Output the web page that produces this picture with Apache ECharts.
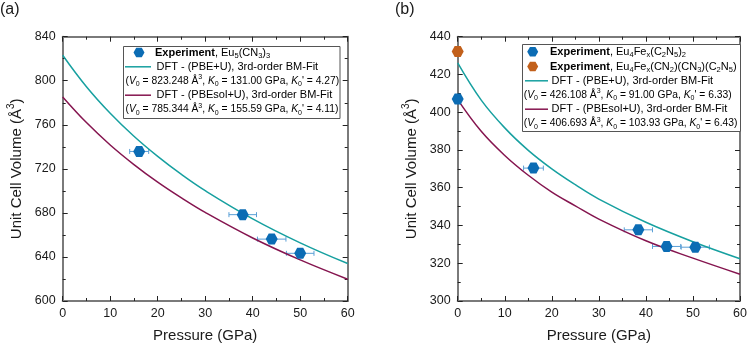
<!DOCTYPE html>
<html>
<head>
<meta charset="utf-8">
<script src="https://cdn.jsdelivr.net/npm/echarts@6/dist/echarts.min.js"></script>
<style>
  html, body { margin: 0; padding: 0; background: #fff; }
  #chart { width: 750px; height: 348px; }
</style>
</head>
<body>
<div id="chart"></div>
<script>
// 数据
var fitPressure = [0, 5, 10, 15, 20, 25, 30, 40, 50, 60];
var fitA_PBE    = [823.2, 794.6, 770.5, 749.6, 731.3, 714.9, 700.2, 674.6, 652.8, 634.0];
var fitA_PBEsol = [785.3, 762.0, 741.7, 723.9, 707.9, 693.6, 680.4, 657.2, 637.3, 619.8];
var fitB_PBE    = [426.1, 406.4, 391.7, 379.8, 370.0, 361.6, 354.0, 341.7, 331.4, 322.4];
var fitB_PBEsol = [406.7, 389.9, 377.1, 366.6, 357.7, 350.4, 343.4, 331.9, 322.7, 314.2];

var expA_P   = [16.1, 37.9, 44.0, 50.0];
var expA_V   = [735.8, 678.4, 656.2, 643.3];
var expA_err = [2.0, 2.9, 3.0, 2.9];

var expB_P   = [0, 16.1, 38.4, 44.4, 50.5];
var expB_V   = [407.0, 370.4, 337.7, 328.9, 328.5];
var expB_err = [0, 2.1, 3.0, 3.0, 3.0];

var expB2_P = [0];
var expB2_V = [432.1];

var xTicks = { min: 0, max: 60, interval: 10 };
var yTicksA = { min: 600, max: 840, interval: 40 };
var yTicksB = { min: 300, max: 440, interval: 20 };

var TEAL = '#17a0a0';
var PURPLE = '#85154f';
var BLUE = '#0b6cb4';
var ERR = '#5a9fd6';
var ORANGE = '#c2601b';
var FONT = 'Liberation Sans, Arial, sans-serif';

function pairs(xs, ys) {
    return xs.map(function (x, i) { return [x, ys[i]]; });
}
function errData(xs, ys, es) {
    return xs.map(function (x, i) { return [x, ys[i], es[i]]; });
}

var hexPath = 'path://M-1,0 L-0.5,-0.866 L0.5,-0.866 L1,0 L0.5,0.866 L-0.5,0.866 Z';

function errorBars(params, api) {
    var x = api.value(0), y = api.value(1), e = api.value(2);
    if (!e) return;
    var l = api.coord([x - e, y]);
    var r = api.coord([x + e, y]);
    var cap = 2.5;
    return {
        type: 'group',
        children: [
            { type: 'line', shape: { x1: l[0], y1: l[1], x2: r[0], y2: r[1] }, style: { stroke: ERR, lineWidth: 1 } },
            { type: 'line', shape: { x1: l[0], y1: l[1] - cap, x2: l[0], y2: l[1] + cap }, style: { stroke: ERR, lineWidth: 1 } },
            { type: 'line', shape: { x1: r[0], y1: r[1] - cap, x2: r[0], y2: r[1] + cap }, style: { stroke: ERR, lineWidth: 1 } }
        ]
    };
}

function xAxisCfg(grid, top) {
    return {
        gridIndex: grid, type: 'value', position: top ? 'top' : 'bottom',
        min: xTicks.min, max: xTicks.max, interval: xTicks.interval,
        name: top ? '' : 'Pressure (GPa)', nameLocation: 'middle', nameGap: 27,
        nameTextStyle: { fontSize: 15, color: '#1a1a1a', fontFamily: FONT },
        axisLine: { onZero: false, lineStyle: { color: '#7a7a7a', width: 2 } },
        axisTick: { inside: true, length: 5, lineStyle: { color: '#222' } },
        minorTick: { show: true, splitNumber: 2, length: 3, lineStyle: { color: '#222' } },
        axisLabel: { show: !top, fontSize: 12.5, color: '#1a1a1a', fontFamily: FONT, margin: 6 },
        splitLine: { show: false }
    };
}
function yAxisCfg(grid, right, t) {
    return {
        gridIndex: grid, type: 'value', position: right ? 'right' : 'left',
        min: t.min, max: t.max, interval: t.interval,
        name: right ? '' : '{n|Unit Cell Volume (Å}{s|3}{n|)}', nameLocation: 'middle', nameGap: 36,
        nameTextStyle: {
            rich: {
                n: { fontSize: 15, color: '#1a1a1a', fontFamily: FONT, lineHeight: 20 },
                s: { fontSize: 10, color: '#1a1a1a', fontFamily: FONT, lineHeight: 12, verticalAlign: 'top' }
            }
        },
        axisLine: { onZero: false, lineStyle: { color: '#7a7a7a', width: 2 } },
        axisTick: { inside: true, length: 5, lineStyle: { color: '#222' } },
        minorTick: { show: true, splitNumber: 2, length: 3, lineStyle: { color: '#222' } },
        axisLabel: { show: !right, fontSize: 12.5, color: '#1a1a1a', fontFamily: FONT, margin: 7 },
        splitLine: { show: false }
    };
}

// 图例 (graphic)
var legRich = {
    n: { fontSize: 11, lineHeight: 14, color: '#1a1a1a', fontFamily: FONT },
    b: { fontSize: 11, lineHeight: 14, color: '#1a1a1a', fontFamily: FONT, fontWeight: 'bold' },
    i: { fontSize: 11, lineHeight: 14, color: '#1a1a1a', fontFamily: FONT, fontStyle: 'italic' },
    sub: { fontSize: 7.5, lineHeight: 9, color: '#1a1a1a', fontFamily: FONT, verticalAlign: 'bottom' },
    sup: { fontSize: 7.5, lineHeight: 9, color: '#1a1a1a', fontFamily: FONT, verticalAlign: 'top' }
};
var legRichP = {
    n: { fontSize: 10.3, lineHeight: 14, color: '#1a1a1a', fontFamily: FONT },
    i: { fontSize: 10.3, lineHeight: 14, color: '#1a1a1a', fontFamily: FONT, fontStyle: 'italic' },
    sub: { fontSize: 7, lineHeight: 9, color: '#1a1a1a', fontFamily: FONT, verticalAlign: 'bottom' },
    sup: { fontSize: 7, lineHeight: 9, color: '#1a1a1a', fontFamily: FONT, verticalAlign: 'top' }
};
function legText(x, y, t, rich) {
    return { type: 'text', x: x, y: y, style: { text: t, rich: rich || legRich, verticalAlign: 'middle', align: 'left' }, z: 10 };
}
function legLine(x1, x2, y, c) {
    return { type: 'line', shape: { x1: x1, y1: y, x2: x2, y2: y }, style: { stroke: c, lineWidth: 1.5 }, z: 10 };
}
function legHex(cx, cy, c) {
    var r = 5.5, pts = [];
    for (var k = 0; k < 6; k++) {
        var a = Math.PI / 3 * k;
        pts.push([cx + r * Math.cos(a), cy + r * Math.sin(a)]);
    }
    return { type: 'polygon', shape: { points: pts }, style: { fill: c }, z: 10 };
}
function legBox(x, y, w, h) {
    return { type: 'rect', shape: { x: x, y: y, width: w, height: h }, style: { fill: '#fff', stroke: '#555', lineWidth: 1 }, z: 9 };
}

var graphics = [
    { type: 'text', x: 0, y: 2, style: { text: '(a)', fontSize: 16, fill: '#1a1a1a', fontFamily: FONT } },
    { type: 'text', x: 395, y: 2, style: { text: '(b)', fontSize: 16, fill: '#1a1a1a', fontFamily: FONT } },

    legBox(123.5, 46.5, 216.5, 72),
    legHex(139, 52.5, BLUE),
    legText(155, 52.5, '{b|Experiment}{n|, Eu}{sub|5}{n|(CN}{sub|3}{n|)}{sub|3}'),
    legLine(125, 151, 66.8, TEAL),
    legText(156.5, 66.8, '{n|DFT - (PBE+U), 3rd-order BM-Fit}'),
    legText(125.5, 81, '{n|(}{i|V}{sub|0}{n| = 823.248 Å}{sup|3}{n|, }{i|K}{sub|0}{n| = 131.00 GPa, }{i|K}{sub|0}{n|\' = 4.27)}', legRichP),
    legLine(125, 151, 95.2, PURPLE),
    legText(156.5, 95.2, '{n|DFT - (PBEsol+U), 3rd-order BM-Fit}'),
    legText(125.5, 109.4, '{n|(}{i|V}{sub|0}{n| = 785.344 Å}{sup|3}{n|, }{i|K}{sub|0}{n| = 155.59 GPa, }{i|K}{sub|0}{n|\' = 4.11)}', legRichP),

    legBox(522.5, 44.5, 218, 87),
    legHex(532.7, 51.7, BLUE),
    legText(550, 51.7, '{b|Experiment}{n|, Eu}{sub|4}{n|Fe}{sub|x}{n|(C}{sub|2}{n|N}{sub|5}{n|)}{sub|2}'),
    legHex(532.7, 66.5, ORANGE),
    legText(550, 66.5, '{b|Experiment}{n|, Eu}{sub|4}{n|Fe}{sub|x}{n|(CN}{sub|2}{n|)(CN}{sub|3}{n|)(C}{sub|2}{n|N}{sub|5}{n|)}'),
    legLine(525, 548, 80.8, TEAL),
    legText(551.5, 80.8, '{n|DFT - (PBE+U), 3rd-order BM-Fit}'),
    legText(523.8, 95, '{n|(}{i|V}{sub|0}{n| = 426.108 Å}{sup|3}{n|, }{i|K}{sub|0}{n| = 91.00 GPa, }{i|K}{sub|0}{n|\' = 6.33)}', legRichP),
    legLine(525, 548, 109.2, PURPLE),
    legText(551.5, 109.2, '{n|DFT - (PBEsol+U), 3rd-order BM-Fit}'),
    legText(523.8, 123.4, '{n|(}{i|V}{sub|0}{n| = 406.693 Å}{sup|3}{n|, }{i|K}{sub|0}{n| = 103.93 GPa, }{i|K}{sub|0}{n|\' = 6.43)}', legRichP)
];

var chart = echarts.init(document.getElementById('chart'));

var option = {
    animation: false,
    backgroundColor: '#fff',
    grid: [
        { left: 62.7, right: 402.3, top: 36.7, bottom: 45 },
        { left: 457.7, right: 10, top: 36.7, bottom: 45 }
    ],
    xAxis: [xAxisCfg(0, false), xAxisCfg(0, true), xAxisCfg(1, false), xAxisCfg(1, true)],
    yAxis: [yAxisCfg(0, false, yTicksA), yAxisCfg(0, true, yTicksA), yAxisCfg(1, false, yTicksB), yAxisCfg(1, true, yTicksB)],
    graphic: graphics,
    series: [
        { type: 'line', xAxisIndex: 0, yAxisIndex: 0, data: pairs(fitPressure, fitA_PBE), smooth: 0.4, showSymbol: false, lineStyle: { color: TEAL, width: 1.5 } },
        { type: 'line', xAxisIndex: 0, yAxisIndex: 0, data: pairs(fitPressure, fitA_PBEsol), smooth: 0.4, showSymbol: false, lineStyle: { color: PURPLE, width: 1.5 } },
        { type: 'custom', xAxisIndex: 0, yAxisIndex: 0, data: errData(expA_P, expA_V, expA_err), renderItem: errorBars, z: 3 },
        { type: 'scatter', xAxisIndex: 0, yAxisIndex: 0, data: pairs(expA_P, expA_V), symbol: hexPath, symbolSize: [12, 11], itemStyle: { color: BLUE, opacity: 1 }, z: 4 },

        { type: 'line', xAxisIndex: 2, yAxisIndex: 2, data: pairs(fitPressure, fitB_PBE), smooth: 0.4, showSymbol: false, lineStyle: { color: TEAL, width: 1.5 } },
        { type: 'line', xAxisIndex: 2, yAxisIndex: 2, data: pairs(fitPressure, fitB_PBEsol), smooth: 0.4, showSymbol: false, lineStyle: { color: PURPLE, width: 1.5 } },
        { type: 'custom', xAxisIndex: 2, yAxisIndex: 2, data: errData(expB_P, expB_V, expB_err), renderItem: errorBars, z: 3 },
        { type: 'scatter', xAxisIndex: 2, yAxisIndex: 2, data: pairs(expB_P, expB_V), symbol: hexPath, symbolSize: [12, 11], itemStyle: { color: BLUE, opacity: 1 }, z: 4 },
        { type: 'scatter', xAxisIndex: 2, yAxisIndex: 2, data: pairs(expB2_P, expB2_V), symbol: hexPath, symbolSize: [12, 11], itemStyle: { color: ORANGE, opacity: 1 }, z: 4 }
    ]
};

chart.setOption(option);
</script>
</body>
</html>
